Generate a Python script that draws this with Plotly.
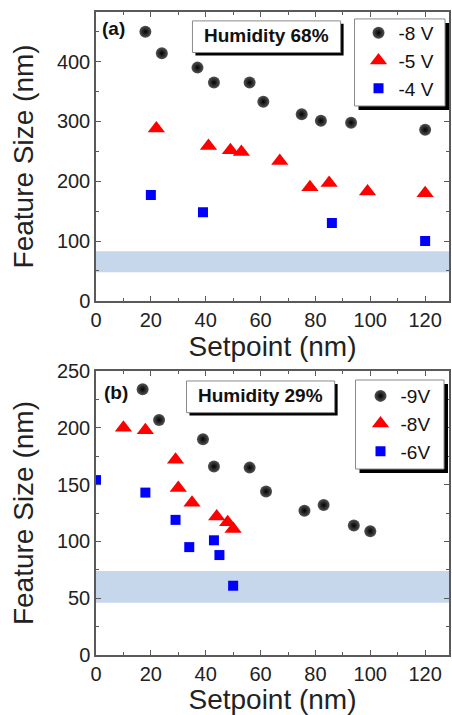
import plotly.graph_objects as go
from plotly.subplots import make_subplots

# Panel (a): humidity 68 %
a_set_8v = [18, 24, 37, 43, 56, 61, 75, 82, 93, 120]
a_size_8v = [450, 414, 390, 365, 365, 333, 312, 301, 298, 286]
a_set_5v = [22, 41, 49, 53, 67, 78, 85, 99, 120]
a_size_5v = [288, 259, 252, 249, 234, 190, 197, 183, 180]
a_set_4v = [20, 39, 86, 120]
a_size_4v = [177, 148, 130, 100]
a_band = [48, 83]

# Panel (b): humidity 29 %
b_set_9v = [17, 23, 39, 43, 56, 62, 76, 83, 94, 100]
b_size_9v = [234, 207, 190, 166, 165, 144, 127, 132, 114, 109]
b_set_8v = [10, 18, 29, 30, 35, 44, 48, 50]
b_size_8v = [200, 198, 172, 147, 134, 122, 117, 111]
b_set_6v = [0, 18, 29, 34, 43, 45, 50]
b_size_6v = [154, 143, 119, 95, 101, 88, 61]
b_band = [46, 74]

x_ticks = [0, 20, 40, 60, 80, 100, 120]
a_y_ticks = [0, 100, 200, 300, 400]
b_y_ticks = [0, 50, 100, 150, 200, 250]

FONT = "Arial, Liberation Sans, Helvetica, sans-serif"
AXIS_COLOR = "#5a5a5a"
BAND_COLOR = "rgba(180,202,228,0.75)"

W, H = 452, 715
ML, MR, MT, MB = 96, 1, 5, 60
PW, PH = W - ML - MR, H - MT - MB


def px(x):
    return (x - ML) / PW


def py(y):
    return (H - MB - y) / PH


fig = make_subplots(rows=2, cols=1, vertical_spacing=0.11)
fig.update_layout(
    yaxis=dict(domain=[py(297), 1.0]),
    yaxis2=dict(domain=[0.0, py(368)]),
)

sphere = dict(symbol="circle", size=12, color="#555555",
              gradient=dict(type="radial", color="#000000"), line=dict(width=0))
tri = dict(symbol="triangle-up", size=15, color="#ff0000", line=dict(width=0))
sq = dict(symbol="square", size=10, color="#0000ff", line=dict(width=0))

fig.add_trace(go.Scatter(x=a_set_8v, y=a_size_8v, mode="markers", name="-8 V",
                         marker=sphere, legend="legend"), row=1, col=1)
fig.add_trace(go.Scatter(x=a_set_5v, y=a_size_5v, mode="markers", name="-5 V",
                         marker=tri, legend="legend"), row=1, col=1)
fig.add_trace(go.Scatter(x=a_set_4v, y=a_size_4v, mode="markers", name="-4 V",
                         marker=sq, legend="legend"), row=1, col=1)

fig.add_trace(go.Scatter(x=b_set_9v, y=b_size_9v, mode="markers", name="-9V",
                         marker=sphere, legend="legend2"), row=2, col=1)
fig.add_trace(go.Scatter(x=b_set_8v, y=b_size_8v, mode="markers", name="-8V",
                         marker=tri, legend="legend2"), row=2, col=1)
fig.add_trace(go.Scatter(x=b_set_6v, y=b_size_6v, mode="markers", name="-6V",
                         marker=sq, legend="legend2"), row=2, col=1)

# shaded bands
fig.add_shape(type="rect", xref="x domain", yref="y", x0=0, x1=1,
              y0=a_band[0], y1=a_band[1], fillcolor=BAND_COLOR,
              line=dict(width=0), layer="below")
fig.add_shape(type="rect", xref="x2 domain", yref="y2", x0=0, x1=1,
              y0=b_band[0], y1=b_band[1], fillcolor=BAND_COLOR,
              line=dict(width=0), layer="below")

axis_common = dict(
    showline=True, linecolor=AXIS_COLOR, linewidth=1.5, mirror="ticks",
    ticks="inside", ticklen=5, tickwidth=1.2, tickcolor=AXIS_COLOR,
    showgrid=False, zeroline=False,
    tickfont=dict(family=FONT, size=20, color="#222"),
    title_font=dict(family=FONT, size=28, color="#222"),
)

for r in (1, 2):
    fig.update_xaxes(range=[0, 128.7], tickvals=x_ticks,
                     minor=dict(ticks="inside", ticklen=3, dtick=10,
                                tickcolor=AXIS_COLOR, tick0=0),
                     title_text="Setpoint (nm)", title_standoff=4 if r == 1 else 6,
                     row=r, col=1, **axis_common)

fig.update_yaxes(range=[0, 483], tickvals=a_y_ticks,
                 minor=dict(ticks="inside", ticklen=3, dtick=50, tick0=0,
                            tickcolor=AXIS_COLOR),
                 title_text="Feature Size (nm)", row=1, col=1, **axis_common)
fig.update_yaxes(range=[0, 250], tickvals=b_y_ticks,
                 minor=dict(ticks="inside", ticklen=3, dtick=25, tick0=0,
                            tickcolor=AXIS_COLOR),
                 title_text="Feature Size (nm)", row=2, col=1, **axis_common)


def boxed(x0, y0, x1, y1, dx=3, dy=3):
    # white framed box with a black drop shadow (pixel positions)
    fig.add_shape(type="rect", xref="paper", yref="paper",
                  x0=px(x0 + dx), x1=px(x1 + dx), y0=py(y1 + dy), y1=py(y0 + dy),
                  fillcolor="black", line=dict(width=0), layer="above")
    fig.add_shape(type="rect", xref="paper", yref="paper",
                  x0=px(x0), x1=px(x1), y0=py(y1), y1=py(y0),
                  fillcolor="white", line=dict(color="#8a8a8a", width=1),
                  layer="above")


boxed(193, 14, 342, 46)
boxed(187, 378, 336, 410)
# frames behind the two legends
boxed(356, 12, 447, 100, 4, 4)
boxed(357, 377, 446, 467, 4, 4)

for xc, yc, label, size in [(267.5, 29, "<b>Humidity 68%</b>", 19),
                            (261.5, 393, "<b>Humidity 29%</b>", 19),
                            (114, 22, "<b>(a)</b>", 19),
                            (116, 390, "<b>(b)</b>", 19)]:
    fig.add_annotation(xref="paper", yref="paper", x=px(xc), y=py(yc),
                       xanchor="center", yanchor="middle", text=label,
                       showarrow=False,
                       font=dict(family=FONT, size=size, color="#111"))

legend_style = dict(bgcolor="rgba(0,0,0,0)", borderwidth=0,
                    font=dict(family=FONT, size=19, color="#111"),
                    xanchor="left", yanchor="top", itemsizing="trace",
                    tracegroupgap=0)
fig.update_layout(
    legend=dict(x=px(360), y=py(7), **legend_style),
    legend2=dict(x=px(362), y=py(374), **legend_style),
    width=W, height=H,
    margin=dict(l=ML, r=MR, t=MT, b=MB),
    paper_bgcolor="white", plot_bgcolor="white",
    showlegend=True,
)

fig.write_html("out.html")
